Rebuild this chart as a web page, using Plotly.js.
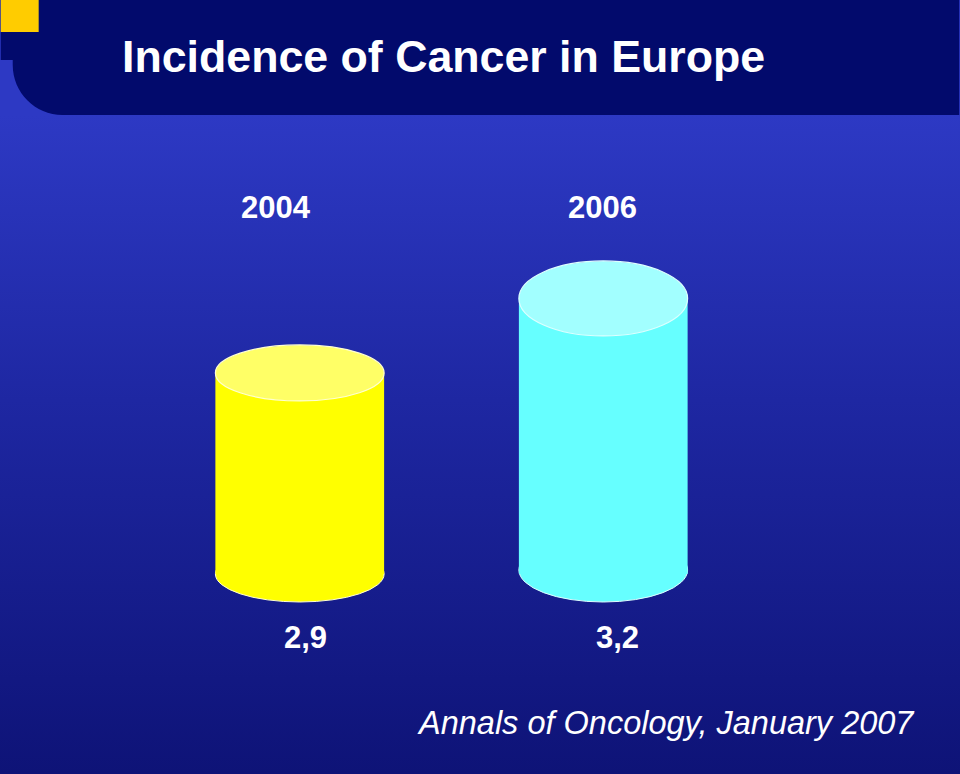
<!DOCTYPE html>
<html><head><meta charset="utf-8">
<script src="https://cdn.plot.ly/plotly-3.0.1.min.js"></script>
<style>
html,body{margin:0;padding:0;background:#0F1479;}
#chart{width:960px;height:774px;background:linear-gradient(to bottom,#2D39C4 0px,#2D39C4 115px,#1E27A2 400px,#0E1377 774px);}
</style></head><body><div id="chart"></div>
<script>
// ---- data ----
const categories = ['2004', '2006'];
const values = [2.9, 3.2];
const titleText = 'Incidence of Cancer in Europe';
const sourceText = 'Annals of Oncology, January 2007';

// ---- styling / layout config ----
const W = 960, H = 774;
const M = {l: 147.5, r: 204.5, t: 200, b: 200};
const PW = W - M.l - M.r, PH = H - M.t - M.b;
const yRange = [2.085, 2.085 + PH / 246.67];
const barWidth = 0.556;
const bodyColors = ['#FFFF00', '#66FFFF'];
const topColors = ['#FFFF66', '#A2FFFF'];
const rimColors = ['#FFFFD0', '#DDFFFF'];
const topRy = [[-28, 28], [-37, 38]];      // pixel offsets of top ellipse around value
const bottomRy = [[-28, 28], [-28, 36]];   // pixel offsets of bottom ellipse around axis base
const catShift = [-24, -1];
const valShift = [6, 14];
const font = 'Liberation Sans, Arial, Helvetica, sans-serif';

const px = x => (x - M.l) / PW;
const py = y => (H - M.b - y) / PH;

const shapes = [];
// header band
const k = 0.5523, R = 50;
const d = `M ${px(0)},${py(0)} L ${px(W)},${py(0)} L ${px(W)},${py(115)} L ${px(12 + R)},${py(115)} ` +
  `C ${px(12 + R - R * k)},${py(115)} ${px(12)},${py(115 - R + R * k)} ${px(12)},${py(115 - R)} ` +
  `L ${px(12)},${py(60)} L ${px(0)},${py(60)} Z`;
shapes.push({type: 'path', xref: 'paper', yref: 'paper', path: d, fillcolor: '#020A6C', line: {width: 0}, layer: 'below'});
shapes.push({type: 'rect', xref: 'paper', yref: 'paper', x0: px(0), x1: px(38), y0: py(0), y1: py(32),
  fillcolor: '#FFCC00', line: {width: 0}, layer: 'below'});

categories.forEach((c, i) => {
  // bottom ellipse (behind body)
  shapes.push({type: 'circle', xref: 'x', yref: 'paper', ysizemode: 'pixel', yanchor: 0,
    x0: i - barWidth / 2, x1: i + barWidth / 2, y0: bottomRy[i][0], y1: bottomRy[i][1],
    fillcolor: bodyColors[i], line: {color: rimColors[i], width: 1}, layer: 'below'});
  // top ellipse (above body)
  shapes.push({type: 'circle', xref: 'x', yref: 'y', ysizemode: 'pixel', yanchor: values[i],
    x0: i - barWidth / 2, x1: i + barWidth / 2, y0: topRy[i][0], y1: topRy[i][1],
    fillcolor: topColors[i], line: {color: rimColors[i], width: 1.2}, layer: 'above'});
});

const annotations = [];
categories.forEach((c, i) => {
  annotations.push({text: '<b>' + c + '</b>', xref: 'x', x: i, xshift: catShift[i], yref: 'paper', y: py(207),
    yanchor: 'middle', showarrow: false, font: {family: font, size: 31, color: '#FFFFFF'}});
  annotations.push({text: '<b>' + values[i].toFixed(1).replace('.', ',') + '</b>', xref: 'x', x: i, xshift: valShift[i],
    yref: 'paper', y: py(637), yanchor: 'middle', showarrow: false, font: {family: font, size: 31, color: '#FFFFFF'}});
});
annotations.push({text: '<i>' + sourceText + '</i>', xref: 'paper', x: px(415), xanchor: 'left', yref: 'paper', y: py(723),
  yanchor: 'middle', showarrow: false, font: {family: font, size: 32.5, color: '#FFFFFF'}});

const trace = {
  type: 'bar', x: categories, y: values, width: barWidth,
  marker: {color: bodyColors, line: {width: 0}}, hoverinfo: 'skip'
};

const layout = {
  width: W, height: H, margin: M,
  paper_bgcolor: 'rgba(0,0,0,0)', plot_bgcolor: 'rgba(0,0,0,0)',
  showlegend: false,
  title: {text: '<b>' + titleText + '</b>', xref: 'container', x: 122 / W, xanchor: 'left',
    yref: 'container', y: 1 - 56 / H, yanchor: 'middle',
    font: {family: font, size: 44.7, color: '#FFFFFF'}},
  xaxis: {type: 'category', range: [-0.5, 1.5], visible: false, fixedrange: true},
  yaxis: {range: yRange, visible: false, fixedrange: true},
  shapes: shapes, annotations: annotations
};

Plotly.newPlot('chart', [trace], layout, {displayModeBar: false, staticPlot: true});
</script></body></html>
